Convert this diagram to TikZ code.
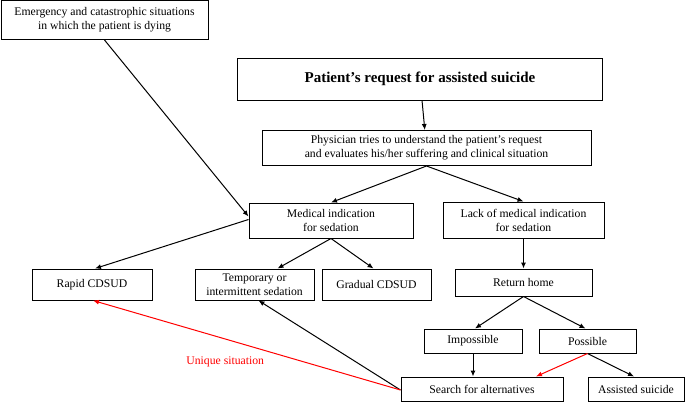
\documentclass[tikz,border=0pt]{standalone}
\usepackage{fontspec}
\setmainfont{Liberation Serif}
\usetikzlibrary{arrows.meta}
\begin{document}
\begin{tikzpicture}[x=1pt,y=-1pt,
        box/.style={draw,line width=1pt,align=center,inner sep=0pt,font=\fontsize{11.7}{14}\selectfont},
        arr/.style={-{Latex[length=6pt,width=5pt]},line width=1pt},
        redarr/.style={arr,red}]
        \useasboundingbox (0,0) rectangle (685,402);
        % boxes
        \node[box,minimum width=207pt,minimum height=39pt] (emerg) at (104.5,20) {Emergency and catastrophic situations\\in which the patient is dying};
        \node[box,minimum width=365pt,minimum height=42pt,font=\fontsize{15}{17}\selectfont\bfseries] (request) at (420,79) {Patient’s request for assisted suicide};
        \node[box,minimum width=329pt,minimum height=35pt] (physician) at (426.5,148) {Physician tries to understand the patient’s request\\and evaluates his/her suffering and clinical situation};
        \node[box,minimum width=164pt,minimum height=35pt] (medind) at (331,220.5) {Medical indication\\for sedation};
        \node[box,minimum width=161pt,minimum height=36pt] (lack) at (523.5,220) {Lack of medical indication\\for sedation};
        \node[box,minimum width=120pt,minimum height=31pt] (rapid) at (92,284.5) {Rapid CDSUD};
        \node[box,minimum width=119pt,minimum height=31pt] (temp) at (254.5,284.5) {Temporary or\\intermittent sedation};
        \node[box,minimum width=109pt,minimum height=31pt] (gradual) at (376.5,284.5) {Gradual CDSUD};
        \node[box,minimum width=137pt,minimum height=27pt] (home) at (523.5,282.5) {Return home};
        \node[box,minimum width=98pt,minimum height=24pt] (imposs) at (473,341) {Impossible};
        \node[box,minimum width=97pt,minimum height=24pt] (poss) at (587.5,341) {Possible};
        \node[box,minimum width=162pt,minimum height=24pt] (search) at (482,389) {Search for alternatives};
        \node[box,minimum width=96pt,minimum height=24pt] (assisted) at (636,389) {Assisted suicide};
        % connectors
        \draw[arr] (request) -- (physician);
        \draw[arr] (emerg.south) -- ([yshift=4pt]medind.west);
        \draw[arr] (physician.south) -- (medind.north);
        \draw[arr] (physician.south) -- (lack.north);
        \draw[arr] ([yshift=1pt]medind.west) -- ([xshift=3pt]rapid.north);
        \draw[arr] (medind.south) -- ([xshift=23pt]temp.north);
        \draw[arr] (medind.south) -- ([xshift=-3pt]gradual.north);
        \draw[arr] (lack) -- (home);
        \draw[arr] (home.south) -- ([xshift=2pt]imposs.north);
        \draw[arr] (home.south) -- ([xshift=-2pt]poss.north);
        \draw[arr] (imposs.south) -- (imposs.south |- search.north);
        \draw[arr] (poss.south) -- ([xshift=-2pt]assisted.north);
        \draw[redarr] (poss.south) -- ([xshift=54pt]search.north);
        \draw[arr] ([yshift=-1pt]search.west) -- ([xshift=4pt]temp.south);
        \draw[redarr] ([yshift=-1pt]search.west) -- ([xshift=1pt]rapid.south)
            node[pos=0.57,below=14pt,text=red,font=\fontsize{11.7}{14}\selectfont] (unique) {Unique situation};
    \end{tikzpicture}
\end{document}
